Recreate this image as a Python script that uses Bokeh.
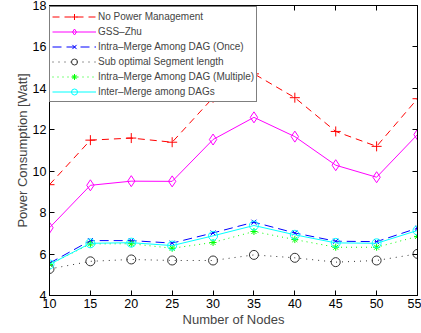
from bokeh.plotting import figure
from bokeh.models import Range1d, LinearAxis, FixedTicker, Legend
from bokeh.embed import file_html
from bokeh.resources import INLINE

nodes = [10, 15, 20, 25, 30, 35, 40, 45, 50, 55]
no_pm = [9.35, 11.5, 11.6, 11.4, 13.55, 14.7, 13.55, 11.92, 11.2, 13.5]
gss_zhu = [7.27, 9.32, 9.52, 9.51, 11.53, 12.6, 11.67, 10.29, 9.71, 11.77]
intra_once = [5.56, 6.65, 6.65, 6.53, 7.02, 7.54, 7.02, 6.62, 6.6, 7.25]
sub_opt = [5.28, 5.65, 5.74, 5.69, 5.69, 5.96, 5.82, 5.61, 5.69, 6.01]
intra_multi = [5.5, 6.49, 6.5, 6.28, 6.56, 7.09, 6.7, 6.33, 6.33, 6.85]
inter_merge = [5.5, 6.52, 6.55, 6.41, 6.88, 7.38, 6.93, 6.54, 6.52, 7.14]
x_ticks = [10, 15, 20, 25, 30, 35, 40, 45, 50, 55]
y_ticks = [4, 6, 8, 10, 12, 14, 16, 18]

FONT = "Liberation Sans"

p = figure(width=421, height=333, output_backend="svg", toolbar_location=None,
           x_range=Range1d(10, 55), y_range=Range1d(4, 18),
           min_border_left=49, min_border_right=4, min_border_top=5, min_border_bottom=38)
p.xgrid.visible = False
p.ygrid.visible = False
p.outline_line_color = "black"
p.outline_line_width = 1

for ax in (p.xaxis[0], p.yaxis[0]):
    ax.major_tick_in = 5
    ax.major_tick_out = 0
    ax.minor_tick_in = 0
    ax.minor_tick_out = 0
    ax.major_label_text_font = FONT
    ax.major_label_text_font_size = "12.5px"
    ax.major_label_text_color = "black"
    ax.axis_label_text_font = FONT
    ax.axis_label_text_font_size = "13px"
    ax.axis_label_text_font_style = "normal"
    ax.axis_line_color = "black"
    ax.axis_line_width = 1
p.xaxis[0].ticker = FixedTicker(ticks=x_ticks)
p.yaxis[0].ticker = FixedTicker(ticks=y_ticks)
p.xaxis[0].axis_label = "Number of Nodes"
p.yaxis[0].axis_label = "Power Consumption [Watt]"
p.xaxis[0].major_label_standoff = 3
p.xaxis[0].axis_label_standoff = 1
p.yaxis[0].major_label_standoff = 3
p.yaxis[0].axis_label_standoff = 0

top = LinearAxis(ticker=FixedTicker(ticks=x_ticks), major_tick_in=5, major_tick_out=0,
                 minor_tick_in=0, minor_tick_out=0, major_label_text_color=None,
                 major_label_text_font_size="1px")
right = LinearAxis(ticker=FixedTicker(ticks=y_ticks), major_tick_in=5, major_tick_out=0,
                   minor_tick_in=0, minor_tick_out=0, major_label_text_color=None,
                   major_label_text_font_size="1px")
p.add_layout(top, "above")
p.add_layout(right, "right")

items = []
def series(ys, color, dash, marker, msize, label):
    l = p.line(nodes, ys, line_color=color, line_width=1, line_dash=dash)
    s = p.scatter(nodes, ys, marker=marker, size=msize, line_color=color,
                  fill_color=None, line_width=1)
    items.append((label, [l, s]))

series(no_pm, "#ff0000", "7 5", "cross", 10, "No Power Management")
series(gss_zhu, "#ff00ff", "solid", "diamond", 11, "GSS\u2013Zhu")
series(intra_once, "#0000ff", "9 5", "x", 7, "Intra\u2013Merge Among DAG (Once)")
series(sub_opt, "#333333", "1 5", "circle", 9, "Sub optimal Segment length")
series(intra_multi, "#00ff00", "1 4", "asterisk", 7, "Intra\u2013Merge Among DAG (Multiple)")
series(inter_merge, "#00ffff", "solid", "circle", 9, "Inter\u2013Merge among DAGs")

legend = Legend(items=items, location=(0, 193), margin=0, padding=2, spacing=0,
                glyph_width=44, glyph_height=15, label_height=15, label_standoff=2,
                label_text_font=FONT, label_text_font_size="10px",
                border_line_color="black", border_line_width=1.5,
                background_fill_color="white", background_fill_alpha=1)
p.add_layout(legend, "center")

open("out.html", "w").write(file_html(p, INLINE))
